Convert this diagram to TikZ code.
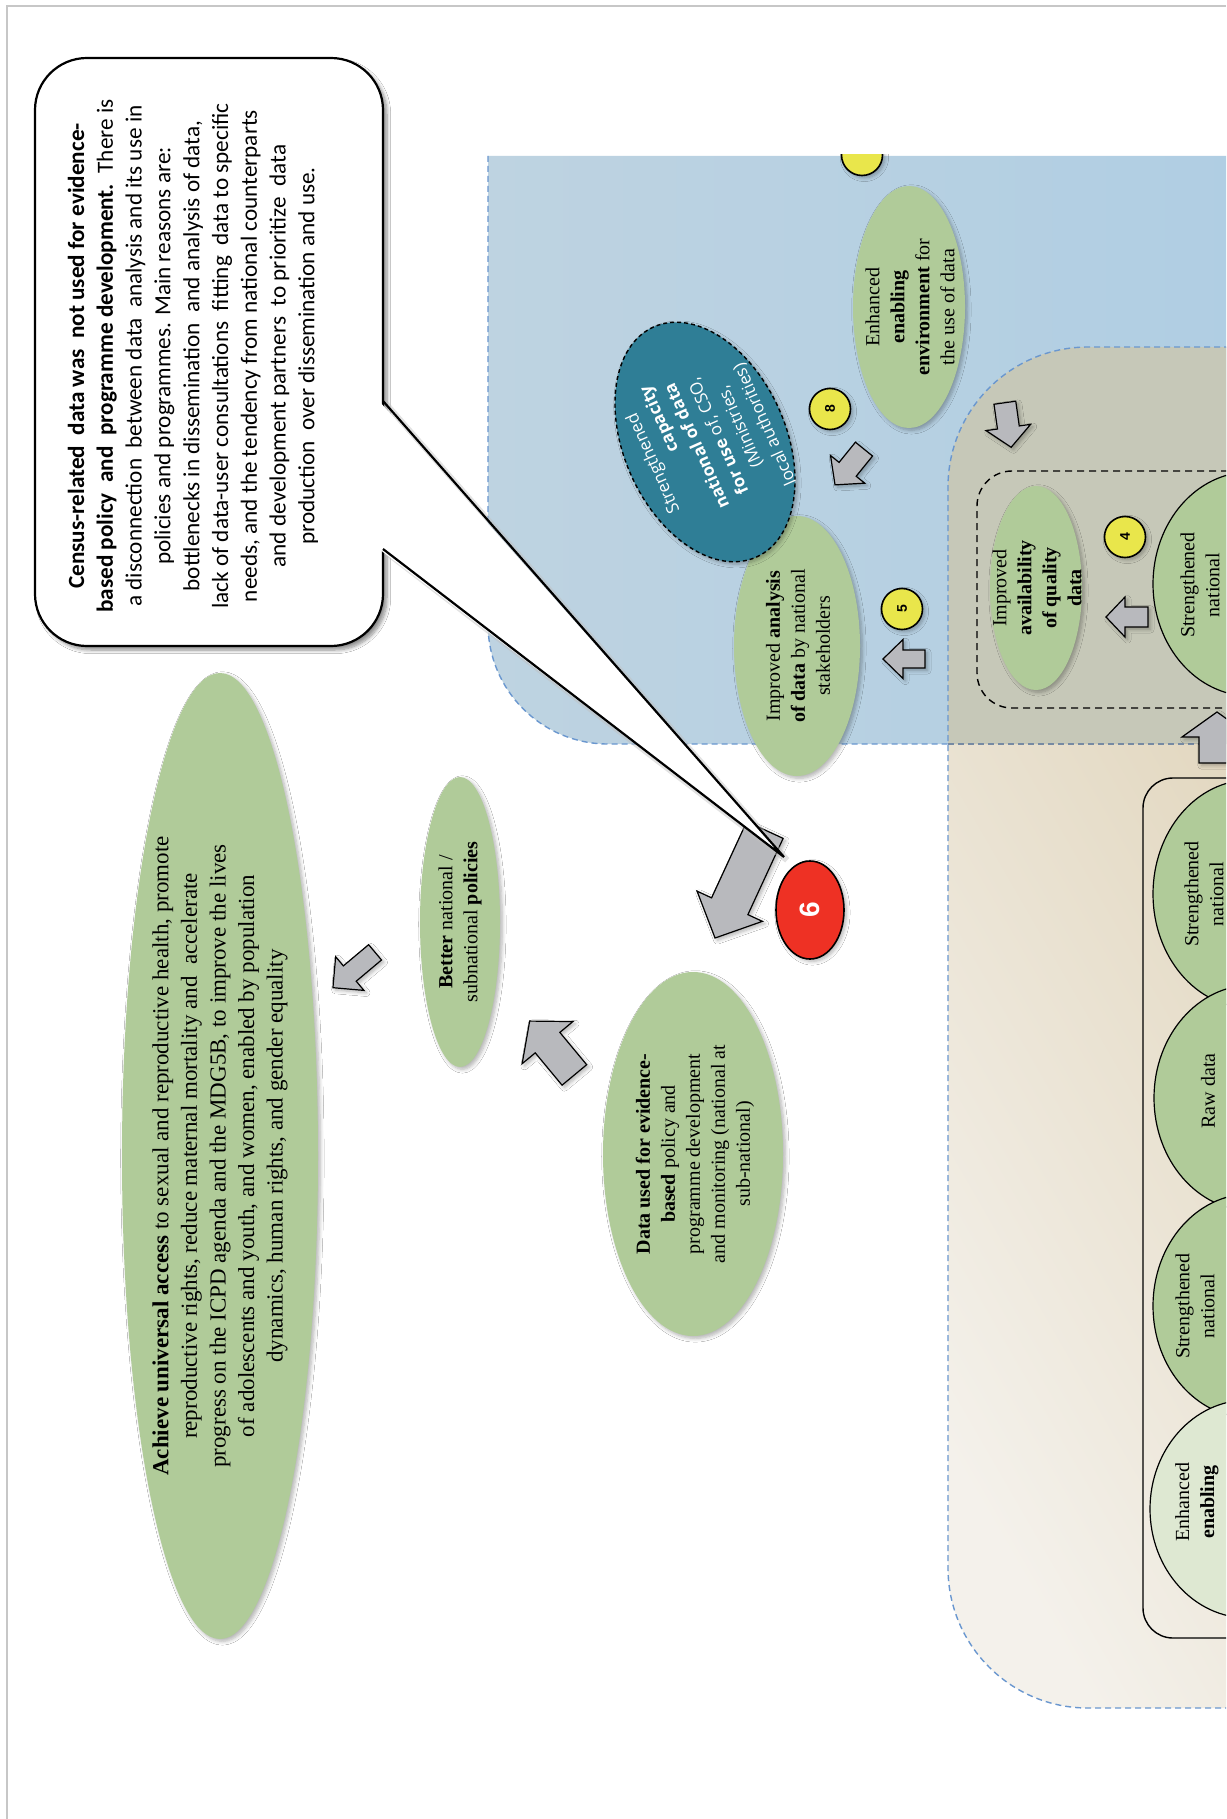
\documentclass[tikz,border=0pt]{standalone}
\usepackage{fontspec}
\setmainfont{Liberation Serif}
\newfontfamily\notefont{Carlito}
\newfontfamily\tealfont{Open Sans}
\newfontfamily\numfont{Liberation Sans}
\usetikzlibrary{shapes.geometric,shadows.blur}

\definecolor{paneblueL}{HTML}{BED3E1}
\definecolor{paneblueR}{HTML}{B0CEE3}
\definecolor{sandA}{HTML}{E0D4BA}
\definecolor{sandB}{HTML}{F4F1EB}
\definecolor{mixgrey}{HTML}{C6C8B8}
\definecolor{leaf}{HTML}{B0CB99}
\definecolor{paleleaf}{HTML}{DEE8D2}
\definecolor{tealfill}{HTML}{2F7E96}
\definecolor{sun}{HTML}{E9E64B}
\definecolor{alarm}{HTML}{EE3124}
\definecolor{arrowgrey}{HTML}{B8B9BD}
\definecolor{dashblue}{HTML}{6A97CF}

% block arrow: centre x, centre y, direction, length, shaft width, head width, head length
\newcommand\blockarrow[7]{%
  \begin{scope}[shift={(#1,#2)},rotate=#3]
    \draw[blockarr] ({-#4/2},{-#5/2}) -- ({#4/2-#7},{-#5/2}) -- ({#4/2-#7},{-#6/2})
      -- ({#4/2},0) -- ({#4/2-#7},{#6/2}) -- ({#4/2-#7},{#5/2}) -- ({-#4/2},{#5/2}) -- cycle;
  \end{scope}}

% panels
\newcommand\bluearea{(488,156) -- (1240,156) -- (1240,744) -- (608,744)
  arc[start angle=270,end angle=180,radius=60pt] -- cycle}
\newcommand\sandarea{(1240,347) -- (1088,347) arc[start angle=90,end angle=180,radius=70pt]
  -- (948,1568) arc[start angle=180,end angle=270,radius=70pt] -- (1240,1708) -- cycle}

\begin{document}
\begin{tikzpicture}[x=0.5pt,y=-0.5pt,
  soft/.style={blur shadow={shadow xshift=1.2pt,shadow yshift=-1.2pt,shadow blur steps=6,shadow opacity=30}},
  leafell/.style={ellipse,fill=leaf,inner sep=0pt,soft},
  ringell/.style={ellipse,fill=leaf,draw=black,line width=0.6pt,inner sep=0pt},
  lbl/.style={rotate=90,align=center,inner sep=0pt,font=\fontsize{10}{12.5}\selectfont},
  badge/.style={circle,fill=sun,draw=black,line width=0.8pt,minimum size=20.5pt,inner sep=0pt,
    font=\numfont\bfseries\fontsize{7}{8}\selectfont,soft},
  blockarr/.style={fill=arrowgrey,draw=black,line width=0.6pt,line join=miter,soft},
  regionedge/.style={dashblue,dash pattern=on 3pt off 2pt,line width=0.7pt},
  boxedge/.style={black,dash pattern=on 3.5pt off 2.5pt,line width=0.7pt},
]
\useasboundingbox (0,0) rectangle (1226,1819);
\clip (0,0) rectangle (1226,1819);
\fill[white] (0,0) rectangle (1226,1819);

% page edge
\draw[black!22,line width=1.4pt] (7,1819) -- (7,6) -- (1226,6);

% panels
\shade[left color=paneblueL,right color=paneblueR] \bluearea;
\shade[top color=sandA,bottom color=sandB,shading angle=-60] \sandarea;
\begin{scope}
  \clip \bluearea;
  \fill[mixgrey] \sandarea;
\end{scope}
\draw[regionedge] (488,156) -- (488,624) arc[start angle=180,end angle=270,radius=60pt] -- (948,744);
\draw[regionedge,color=dashblue!45!gray] (948,744) -- (1240,744);
\draw[regionedge] (1240,347) -- (1088,347) arc[start angle=90,end angle=180,radius=70pt]
  -- (948,1568) arc[start angle=180,end angle=270,radius=70pt] -- (1240,1708);

% inner boxes
\draw[boxedge] (1240,471) -- (1012,471) arc[start angle=90,end angle=180,radius=17.5pt]
  -- (977,673) arc[start angle=180,end angle=270,radius=17.5pt] -- (1240,708);
\draw[black,line width=0.7pt] (1240,778) -- (1173,778) arc[start angle=90,end angle=180,radius=15pt]
  -- (1143,1608) arc[start angle=180,end angle=270,radius=15pt] -- (1240,1638);

% row of outlined ellipses
\node[ringell,minimum width=97pt,minimum height=114pt] (e1) at (1250,894) {};
\node[ringell,minimum width=98pt,minimum height=113pt] (e2) at (1252,1098) {};
\node[ringell,minimum width=97pt,minimum height=112pt] (e3) at (1250,1306) {};
\node[ringell,fill=paleleaf,minimum width=98pt,minimum height=109pt] (e4) at (1248,1509) {};
\node[lbl] (e1t) at (1204,894) {Strengthened\\national};
\node[lbl] (e2t) at (1208,1091) {Raw data};
\node[lbl] (e3t) at (1195,1306) {Strengthened\\national};
\node[lbl] (e4t) at (1197,1502) {Enhanced\\\textbf{enabling}};

% inside the dashed box
\node[ringell,minimum width=97pt,minimum height=112pt] (sn) at (1250,584) {};
\node[lbl] (snt) at (1200,585) {Strengthened\\national};
\node[leafell,minimum width=46pt,minimum height=102pt] (avail) at (1036,588) {};
\node[lbl] (availt) at (1037,588) {Improved\\\textbf{availability}\\\textbf{of quality}\\\textbf{data}};
\node[badge,rotate=90] (b4) at (1125,537) {4};
\blockarrow{1127}{617}{180}{42}{20}{40}{19}
\blockarrow{1217}{737.5}{90}{51}{36}{70}{25}
\blockarrow{1008}{425}{-82}{45}{22}{45}{20}

% blue panel contents
\begin{scope}
  \clip (800,155) rectangle (930,220);
  \node[badge] (b7) at (862,155) {};
\end{scope}
\node[leafell,minimum width=56pt,minimum height=121pt] (enab) at (909,307) {};
\node[lbl] (enabt) at (910,307) {Enhanced\\\textbf{enabling}\\\textbf{environment} for\\the use of data};
\node[badge,rotate=90] (b8) at (830,409) {8};
\blockarrow{849.5}{467}{-129}{46}{22}{44}{20}
\node[leafell,minimum width=63pt,minimum height=130pt] (anal) at (797,646) {};
\node[lbl] (analt) at (798,646) {Improved \textbf{analysis}\\\textbf{of data} by national\\stakeholders};
\node[ellipse,fill=tealfill,draw=black,dash pattern=on 2pt off 1.5pt,line width=0.7pt,
  rotate=114,minimum width=126pt,minimum height=81pt,inner sep=0pt,soft] (teal) at (705,442) {};
\node[rotate=114,text=white,align=center,inner sep=0pt,font=\tealfont\fontsize{8.5}{11.8}\selectfont] (tealt) at (708,441)
  {\hspace*{2pt}Strengthened\\
   \hspace*{40pt}\textbf{capacity}\\
   \textbf{national of data}\hspace*{5pt}\\
   \textbf{for use} of, CSO,\hspace*{3pt}\\
   (Ministries,\hspace*{32pt}\\
   local authorities)\hspace*{8pt}};
\node[badge,rotate=90] (b5) at (902,609) {5};
\blockarrow{904}{659}{180}{42}{18}{39}{20}

% results chain on the left
\node[leafell,minimum width=98pt,minimum height=483pt] (goal) at (220,1156) {};
\node[lbl,font=\fontsize{11.5}{14.3}\selectfont] (goalt) at (220,1156)
  {\textbf{Achieve universal access} to sexual and reproductive health, promote\\
   reproductive rights, reduce maternal mortality and\ \ accelerate\\
   progress on the ICPD agenda and the MDG5B, to improve the lives\\
   of adolescents and youth, and women, enabled by population\\
   dynamics, human rights, and gender equality};
\node[leafell,minimum width=40pt,minimum height=145pt] (pol) at (460,922) {};
\node[lbl] (polt) at (460,922) {\textbf{Better} national /\\subnational \textbf{policies}};
\node[leafell,minimum width=90pt,minimum height=182pt] (use) at (693,1154) {};
\node[lbl] (uset) at (695,1154) {\textbf{Data used for evidence-}\\\textbf{based} policy and\\programme development\\and monitoring (national at\\sub-national)};
\blockarrow{354}{970}{-140}{55}{20}{44}{22}
\blockarrow{552}{1048}{129.7}{70}{32}{66}{28}
\blockarrow{740}{884}{-114.8}{119}{40}{72}{35}
\node[ellipse,fill=alarm,draw=black,line width=0.8pt,minimum width=34pt,minimum height=49pt,inner sep=0pt,soft] (six) at (810,910) {};
\node[rotate=90,text=white,inner sep=0pt,font=\numfont\bfseries\fontsize{14}{14}\selectfont] (sixt) at (six) {6};

% speech bubble
\node[draw,line width=1.1pt,rounded corners=26pt,fill=white,minimum width=174pt,minimum height=294pt,inner sep=0pt,
  blur shadow={shadow xshift=2pt,shadow yshift=-2pt,shadow opacity=45,shadow blur steps=8}] (callout) at (209,352) {};
\coordinate (tailA) at (383,401);
\coordinate (tailB) at (383,549);
\coordinate (tailtip) at (784,857);
\draw[black!25,line width=3pt,opacity=.45] ([shift={(3,3)}]tailA) -- ([shift={(3,3)}]tailtip) -- ([shift={(3,3)}]tailB);
\fill[white] ([xshift=-2pt]tailA) -- (tailtip) -- ([xshift=-2pt]tailB) -- cycle;
\draw[line width=1.1pt,line join=miter] (tailA) -- (tailtip) -- (tailB);
\node[rotate=90,align=center,inner sep=0pt,font=\notefont\fontsize{11.6}{14.4}\selectfont] (callt) at (193,356)
  {\textbf{Census-related\ \ data was\ \ not used for evidence-}\\
   \textbf{based policy\ \ and\ \ programme development.}\ \ There is\\
   a disconnection\ \ between data\ \ analysis and its use in\\
   policies and programmes. Main reasons are:\\
   bottlenecks in dissemination\ \ and analysis of data,\\
   lack of data-user consultations\ \ fitting\ \ data to specific\\
   needs, and the tendency from national counterparts\\
   and development partners\ \ to prioritize\ \ data\\
   production\ \ over dissemination and use.};
\end{tikzpicture}
\end{document}
